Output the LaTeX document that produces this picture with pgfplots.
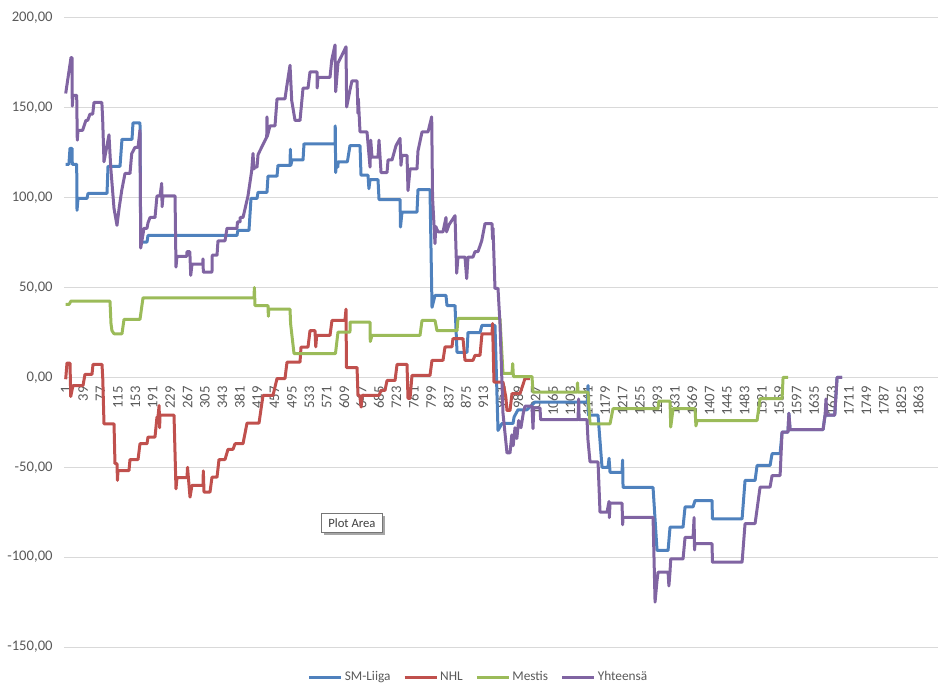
\documentclass[border=0pt]{standalone}
\usepackage{pgfplots}
\pgfplotsset{compat=1.18}
\usepackage{fontspec}
\setmainfont{Carlito}
\usetikzlibrary{shadows}
\definecolor{cSM}{HTML}{4F81BD}
\definecolor{cNHL}{HTML}{C0504D}
\definecolor{cMes}{HTML}{9BBB59}
\definecolor{cYht}{HTML}{8064A2}
\definecolor{gridc}{HTML}{D9D9D9}
\definecolor{txt}{HTML}{595959}
\pgfplotsset{geom/.style={
  at={(48pt,34.5pt)}, anchor=south west,
  scale only axis, width=655.5pt, height=471.75pt,
  xmin=-2.7, xmax=1905.6, ymin=-150, ymax=200,
  enlargelimits=false}}
\begin{document}
\begin{tikzpicture}
\path[use as bounding box] (0,0) rectangle (711pt,519.75pt);
\begin{axis}[
  geom,
  axis x line=middle, axis y line=left,
  x axis line style={-, draw=gridc, line width=0.75pt},
  y axis line style={draw=none},
  hide obscured x ticks=false, hide obscured y ticks=false,
  major tick length=0pt,
  ytick={-150,-100,...,200},
  xtick={1,39,...,1863},
  ymajorgrids, grid style={draw=gridc, line width=0.75pt},
  yticklabel={\fontsize{11}{13}\selectfont\pgfmathprintnumber[assume math mode=true,fixed,fixed zerofill,precision=2,use comma,1000 sep={}]{\tick}},
  xticklabel={\fontsize{11}{12}\selectfont\pgfmathprintnumber[assume math mode=true,fixed,precision=0,1000 sep={}]{\tick}},
  y tick label style={text=txt, xshift=-5pt},
  x tick label style={text=txt, yshift=-3pt, rotate=90, anchor=east},
]
\end{axis}
\begin{axis}[
  geom, hide axis,
  every axis plot/.append style={line width=2.25pt, line join=round, mark=none},
  legend columns=4,
  legend style={at={(0.4743,-0.0477)}, anchor=center, draw=none, fill=none,
     font=\fontsize{10}{12}\selectfont, text=txt,
     /tikz/every even column/.append style={column sep=8pt},
     nodes={inner xsep=1.5pt, inner ysep=1pt}},
  legend image code/.code={\draw[#1, line width=2.25pt] (0pt,0pt) -- (24pt,0pt);},
]
\addplot[cSM] coordinates {
(1,118.6) (8,118.6) (10.4,127.5) (14.8,127.5) (15.4,118.6) (25,118.6) (25.7,93) (27.9,99.6) (47.5,99.6) (49.7,102.4) (91.2,102.4) (93.4,117.5) (119.6,117.5) (123.9,132.5) (145.8,132.5) (147.9,141.6) (163.2,141.6) (164.8,75.3) (178.5,75.3) (180.7,79) (375,79) (377,81.8) (401.2,81.8) (405.6,99.6) (418.7,99.6) (420.9,103) (440.5,103) (442.7,112) (462.4,112) (464.5,118) (490.8,118) (491.5,127) (492.5,118) (495.1,121) (519.2,121) (521.3,130) (589,130) (589.5,140) (590.5,114) (591.2,117) (595,117) (596,120) (616,120) (621.7,129) (643.6,129) (645.8,112.5) (661.1,112.5) (663,105) (665.5,110) (682.9,110) (685.1,99) (731,99) (732,83.7) (735.3,92) (768,92) (770.2,104.5) (796.4,104.5) (800.8,39) (807.3,45.6) (831.3,45.6) (833.5,40) (851,40) (855.4,14) (877.2,14) (879.4,25) (905.6,25) (909.9,29) (936.1,29) (937,17) (938.3,29) (944.9,-29.5) (953.6,-25.6) (977.6,-25.6) (980,-22) (988.5,-18) (1008.2,-18) (1025.6,-13.7) (1117.4,-13.7) (1140,-13.7) (1141.4,-4.5) (1142,-21) (1163.3,-21) (1172,-50) (1185.1,-50) (1187.3,-45) (1189.5,-52.8) (1215.7,-52.8) (1217,-46) (1217.9,-61.2) (1283.4,-61.2) (1292.1,-96.3) (1316.2,-96.3) (1320.5,-83.3) (1348.9,-83.3) (1353.3,-72) (1370.8,-72) (1375.1,-68.5) (1412.3,-68.5) (1413,-78.7) (1477.8,-78.7) (1484.3,-57.3) (1506.2,-57.3) (1510.5,-49) (1538.9,-49) (1543.3,-42.4) (1560.8,-42.4) (1565.1,-30.4) (1578,-30.4) (1580,-20) (1582.6,-29) (1654.6,-29) (1659,-21) (1680,-21) (1685.2,0) (1696.1,0)
};
\addlegendentry{SM-Liiga}
\addplot[cNHL] coordinates {
(1,-1) (3.8,8) (10.4,8) (12,-10.6) (16.9,-4.5) (38.8,-4.5) (43.1,1.7) (58.4,1.7) (60.6,7.2) (80.3,7.2) (82,-1) (84.6,-25.8) (106.5,-25.8) (108.6,-48) (113,-48) (114,-57.3) (115.2,-51.8) (139.2,-51.8) (141.4,-45.7) (158.9,-45.7) (163.2,-36.9) (178.5,-36.9) (180.7,-33.2) (196,-33.2) (200.3,-22) (202.5,-22) (205,-15.6) (206,-28) (207,-21) (237.5,-21) (241.8,-62) (244,-55.8) (265.9,-55.8) (267,-50) (272.4,-66.6) (276.8,-60) (300.8,-60) (301.5,-52) (303,-63.8) (316.1,-63.8) (320.4,-55.5) (331.4,-55.5) (335.7,-45.7) (348.8,-45.7) (355.4,-40) (366.3,-40) (370.7,-36.9) (388.1,-36.9) (396.9,-25.4) (423.1,-25.4) (431.8,-10) (453.6,-10) (462.4,-0.6) (479.8,-0.6) (484.2,8.5) (512.6,8.5) (514.8,16.9) (530.1,16.9) (534.4,26) (545.3,26) (547,17) (549,23.4) (578.1,23.4) (582.4,31.7) (610.8,31.7) (613,38) (614,5.5) (637.1,5.5) (639.2,-10) (643,-10) (646,-16.5) (648,-10) (685.1,-10) (689.5,-7.2) (698.2,-7.2) (702.6,-1.7) (720.1,-1.7) (724.4,7.2) (746.2,7.2) (748.4,-11.7) (752.8,-11.7) (757.1,1.1) (796.4,1.1) (800.8,9.5) (824.8,9.5) (829.2,17) (844.4,17) (846.6,21.6) (868.5,21.6) (872.8,9.5) (890.3,9.5) (894.7,12.3) (905.6,12.3) (909.9,24.3) (931.8,24.3) (933,30) (936.1,-2.6) (955.8,-2.6) (962,-11) (964.5,-18.4) (971.1,-18.4) (975.4,-9) (992.9,-9) (1003.8,-0.6) (1014.7,-0.6)
};
\addlegendentry{NHL}
\addplot[cMes] coordinates {
(1,40.6) (8.2,40.6) (12.6,42.5) (97.7,42.5) (99.9,30) (102,26) (106.5,24.3) (123.9,24.3) (128.3,32.3) (163.2,32.3) (169.8,44.3) (412.1,44.3) (413,50) (414.3,40) (442.7,40) (443.5,34) (444.5,38) (490.8,38) (492,30) (499.5,13.3) (590,13.3) (595.5,25.2) (621.7,25.2) (622,30.8) (665.5,30.8) (666,20) (669.8,23.4) (774.6,23.4) (779,31.7) (807.3,31.7) (811.7,26) (855.4,26) (857.5,32.8) (949.2,32.8) (955.8,2.2) (975.4,2.2) (977,7.7) (978.5,0.5) (1019.1,0.5) (1021.3,-8.2) (1117.4,-8.2) (1118.5,-3) (1119.6,-8.2) (1141.4,-8.2) (1145.8,-25.8) (1189.5,-25.8) (1196,-17.4) (1294.3,-17.4) (1296,-13.2) (1320.5,-13.2) (1322,-27.6) (1327.1,-17.4) (1375.1,-17.4) (1377,-27) (1379.5,-24) (1510.5,-24) (1517.1,-11.8) (1565.1,-11.8) (1567.3,0) (1578.2,0)
};
\addlegendentry{Mestis}
\addplot[cYht] coordinates {
(1,158) (12.6,178) (14.8,178) (15.4,151) (17,157) (25,157) (26.3,132) (27.9,137.5) (38,137.5) (45,143) (49,143) (54,146.5) (60,146.5) (62.8,153) (80,153) (81.8,143) (84.6,120) (95.5,135) (99.3,117) (106.5,94) (113,84.6) (118,94.8) (123.3,104) (130.5,113.5) (141.4,113.5) (145.1,124.5) (152.3,128) (158.9,128) (163.2,137.5) (164.8,72) (172,83) (178.5,83) (180.7,86) (185.1,89) (196,89) (200.3,101) (206.9,101) (210.6,108) (211.5,95) (213.5,101) (239.7,101) (241.8,61.4) (244,67.4) (265.2,67.4) (265.9,70) (272,70) (274,56.8) (276.8,63) (300,63) (300.8,66) (301.5,58.6) (320.4,58.6) (321,68) (331.4,68) (333.5,76) (348.8,76) (353.2,83) (375,83) (376,86.5) (381.6,86.5) (382,89) (388.1,89) (390,91) (399,101) (407.1,115) (410,124.6) (412,116) (414,117) (418.7,117) (421,124) (439.9,133.8) (440.5,145) (441,134) (447.1,140) (458,140) (462.4,155) (479.8,155) (483.5,161.6) (490.8,173.7) (494.5,154) (501.7,143) (512.6,143) (519.2,161) (530.1,161) (534.4,170) (549.7,170) (550,161) (551.9,167) (578.1,167) (581.8,176.5) (589,185) (590.5,159) (595.5,175) (603.6,179) (613,184) (614.5,150.5) (621.7,160) (626,165) (637.1,165) (639.2,147) (640,155) (643.6,136.6) (658.9,136.6) (665.5,117) (667,132) (669.8,122.6) (682.9,122.6) (685.1,132) (689.5,114) (702.6,114) (704.8,121) (713.5,121) (722.2,129) (731,133) (733,118) (735.3,123.6) (746.2,123.6) (748.4,104) (752.8,116) (768,116) (770.2,126) (779,136.6) (792.1,136.6) (800.1,145) (802,100) (807.3,74.5) (809,84) (813.9,81) (824.8,81) (831.3,89) (832.5,81) (838,85) (851,90) (854.7,58) (857.5,67) (872.8,67) (876.5,55) (879.4,67) (890.3,67) (894.7,70) (901.2,70) (909.3,76) (916.5,85.6) (931.8,85.6) (933,77) (934,83) (938.3,49.5) (944.9,49.5) (949.2,30) (955.8,-20) (964.5,-42) (971.1,-42) (975,-32) (978,-38) (982,-28) (986,-34) (990,-24) (995,-28) (1000,-20) (1003.8,-16) (1019.1,-16) (1021.3,-28.5) (1023,-17) (1036.6,-17) (1038,-23.5) (1119.6,-23.5) (1121,-12) (1122,-23.5) (1139.2,-23.5) (1141.4,-35) (1145.8,-47) (1163.3,-47) (1167.6,-75) (1182.9,-75) (1187.3,-69) (1188,-78) (1189.5,-70) (1215.7,-70) (1217,-82) (1217.9,-77.8) (1283.4,-77.8) (1287.8,-125) (1292.1,-113) (1294.3,-108.4) (1316.2,-108.4) (1318,-116) (1320.5,-108) (1322,-101) (1348.9,-101) (1353.3,-89) (1370.8,-89) (1373,-78) (1374,-96) (1375.1,-92.5) (1412.3,-92.5) (1413,-102.8) (1477.8,-102.8) (1484.3,-81.3) (1506.2,-81.3) (1517.1,-61) (1538.9,-61) (1543.3,-54.6) (1560.8,-54.6) (1565.1,-30.4) (1578,-30.4) (1580,-20) (1582.6,-29) (1654.6,-29) (1659,-21) (1661,-12) (1663.3,-21) (1680,-21) (1685.2,0) (1696.1,0)
};
\addlegendentry{Yhteensä}
\node[draw={rgb,255:red,118;green,118;blue,118}, fill=white, line width=0.6pt,
  drop shadow={shadow xshift=2.2pt, shadow yshift=-2.2pt, fill=black!35, opacity=1},
  minimum width=45.75pt, minimum height=14.25pt, inner sep=1pt,
  font=\fontsize{9.5}{11}\selectfont, text={rgb,255:red,64;green,64;blue,64}]
  at (axis cs:626,-81) {Plot Area};
\end{axis}
\end{tikzpicture}
\end{document}
